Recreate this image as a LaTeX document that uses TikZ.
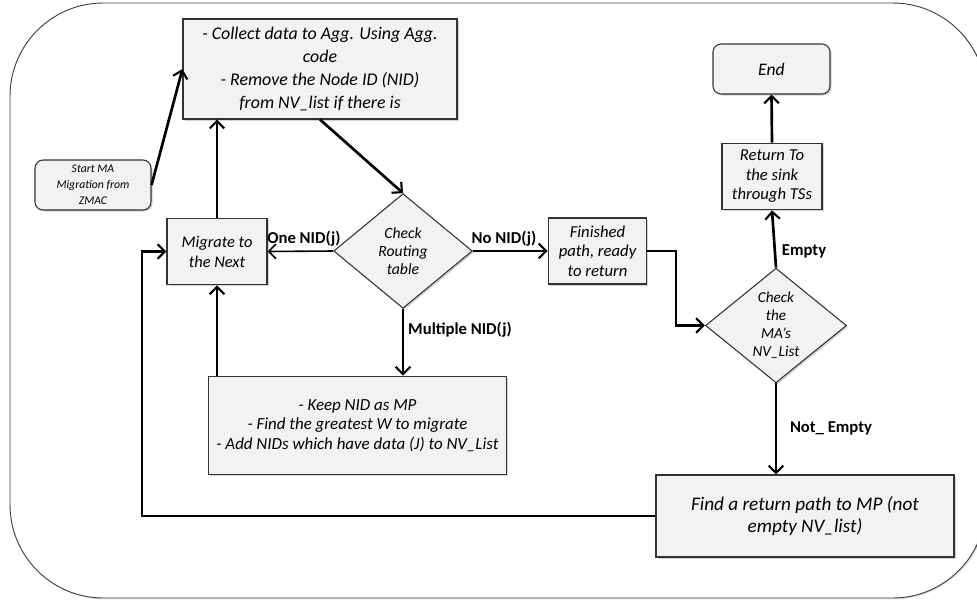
\documentclass[tikz,border=0pt]{standalone}
\usepackage{fontspec}
\setmainfont{Carlito}
\usetikzlibrary{arrows.meta,shapes.geometric,shadows}

\begin{document}
\begin{tikzpicture}[x=0.75pt,y=-0.75pt,
  boxfill/.style={fill=black!5, draw=black!80, line width=0.8pt,
    drop shadow={shadow xshift=1.2pt, shadow yshift=-1.2pt, opacity=0.35}},
  procbox/.style={boxfill, rectangle, align=center, inner sep=2pt, font=\itshape},
  termbox/.style={procbox, rounded corners=6pt},
  decide/.style={boxfill, diamond, align=center, inner sep=0pt, font=\itshape},
  flow/.style={line width=2pt, -{Straight Barb[length=5.5pt,width=11pt,line width=1.6pt]}},
  thinflow/.style={line width=1.2pt, -{Straight Barb[length=5.5pt,width=11pt,line width=1.2pt]}},
  lbl/.style={font=\fontsize{12.5}{14}\selectfont\bfseries, inner sep=1pt}
]
\useasboundingbox (0,0) rectangle (977,600);

% outer frame
\draw[black!75, fill=white, line width=0.7pt, rounded corners=70pt,
  drop shadow={shadow xshift=1pt, shadow yshift=-1pt, opacity=0.25}]
  (10,3) rectangle (986,598);

% process steps
\node[procbox, minimum width=205.5pt, minimum height=75pt,
  font=\itshape\fontsize{13.4}{17.25}\selectfont] (collect) at (320,69)
  {- Collect data to Agg. Using Agg.\\ code\\ - Remove the Node ID (NID)\\ from NV\_list if there is};

\node[termbox, minimum width=87pt, minimum height=37.5pt,
  font=\itshape\fontsize{8.8}{12}\selectfont] (start) at (93,185)
  {Start MA\\ Migration from\\ ZMAC};

\node[procbox, minimum width=75pt, minimum height=50pt,
  font=\itshape\fontsize{12.3}{15}\selectfont] (migrate) at (217,251.5)
  {Migrate to\\ the Next};

\node[decide, minimum width=104pt, minimum height=86pt,
  font=\itshape\fontsize{11.75}{13.5}\selectfont] (check) at (403,251)
  {Check\\ Routing\\ table};

\node[procbox, minimum width=74pt, minimum height=49.5pt,
  font=\itshape\fontsize{12.5}{14.6}\selectfont] (finished) at (597.5,251)
  {Finished\\ path, ready\\ to return};

\node[procbox, minimum width=75pt, minimum height=50pt,
  font=\itshape\fontsize{12.5}{14.6}\selectfont] (return) at (772,176.5)
  {Return To\\ the sink\\ through TSs};

\node[termbox, minimum width=87.75pt, minimum height=37.5pt,
  font=\itshape\fontsize{13.2}{15}\selectfont] (end) at (771.5,69)
  {End};

\node[decide, minimum width=105.75pt, minimum height=86pt,
  font=\itshape\fontsize{11.4}{13.5}\selectfont] (listchk) at (776,325.5)
  {Check\\ the\\ MA’s\\ NV\_List};

\node[procbox, minimum width=224pt, minimum height=74pt,
  font=\itshape\fontsize{12.7}{14.6}\selectfont] (keep) at (357.5,425.5)
  {- Keep NID as MP\\ - Find the greatest W to migrate\\ - Add NIDs which have data (J) to NV\_List};

\node[procbox, minimum width=223.5pt, minimum height=61.5pt,
  font=\itshape\fontsize{14.4}{16.5}\selectfont] (find) at (805,516)
  {Find a return path to MP (not\\ empty NV\_list)};

% turning points of the routed connectors
\coordinate (loopx) at (142,516);
\coordinate (turnx) at (676,251);

% connectors
\draw[flow] (start.east) -- (collect.west);
\draw[flow] (migrate.north) -- (migrate.north |- collect.south);
\draw[flow] (collect.south) -- (check.north);
\draw[thinflow] (check.west) -- (migrate.east);
\draw[flow] (check.east) -- (finished.west);
\draw[flow] (check.south) -- (check.south |- keep.north);
\draw[flow] (migrate.south |- keep.north) -- (migrate.south);
\draw[flow] (find.west) -- (loopx) |- (migrate.west);
\draw[flow] (finished.east) -- (turnx) |- (listchk.west);
\draw[flow] (listchk.north) -- (return.south);
\draw[flow] (return.north) -- (end.south);
\draw[flow] (listchk.south) -- (listchk.south |- find.north);

% branch labels
\node[lbl] (lone) at (304,239) {One NID(j)};
\node[lbl] (lno) at (504,239) {No NID(j)};
\node[lbl] (lmulti) at (460,330) {Multiple NID(j)};
\node[lbl] (lempty) at (804,251) {Empty};
\node[lbl] (lnotempty) at (831,428) {Not\_ Empty};
\end{tikzpicture}
\end{document}
